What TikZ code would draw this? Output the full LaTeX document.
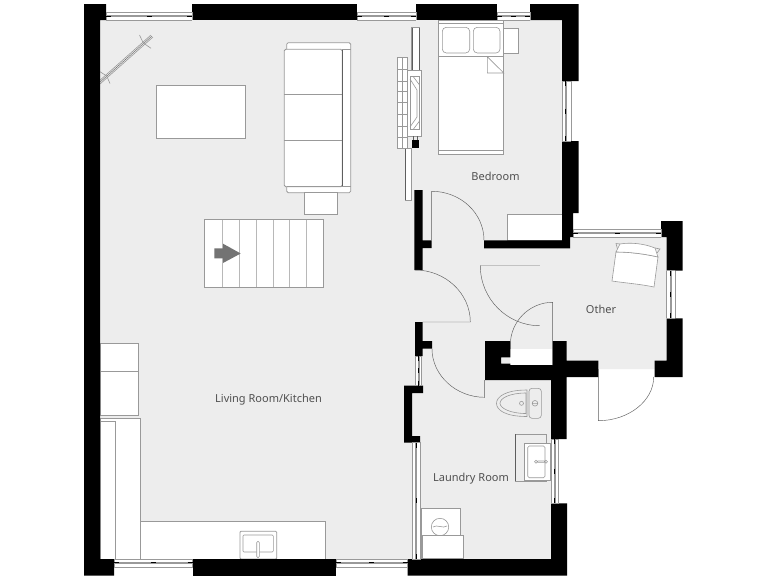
\documentclass[tikz,border=0pt]{standalone}
\usepackage{fontspec}
\setmainfont{Noto Sans}
\definecolor{floorc}{HTML}{EDEDED}
\definecolor{linec}{HTML}{999999}
\definecolor{darkl}{HTML}{5E5E5E}
\definecolor{labelc}{HTML}{505050}
\newcommand{\winh}[4]{% x1,x2,y1,y2
  \fill[white] (#1,#3) rectangle (#2,#4);
  \draw[winl] (#1,#3) -- (#2,#3) (#1,#4) -- (#2,#4) (#1,#3) -- (#1,#4) (#2,#3) -- (#2,#4);
  \draw[winl] (#1,{#3+3.2}) -- (#2,{#3+3.2}) (#1,{#3+4.4}) -- (#2,{#3+4.4});
  \draw[wind] (#1,{#3+3.8}) -- ({#1+5},{#3+3.8}) ({(#1+#2)/2-2.5},{#3+3.8}) -- ({(#1+#2)/2+2.5},{#3+3.8}) ({#2-5},{#3+3.8}) -- (#2,{#3+3.8});}
\newcommand{\winv}[4]{% x1,x2,y1,y2
  \fill[white] (#1,#3) rectangle (#2,#4);
  \draw[winl] (#1,#3) -- (#1,#4) (#2,#3) -- (#2,#4) (#1,#3) -- (#2,#3) (#1,#4) -- (#2,#4);
  \draw[winl] ({#1+3.2},#3) -- ({#1+3.2},#4) ({#1+4.4},#3) -- ({#1+4.4},#4);
  \draw[wind] ({#1+3.8},#3) -- ({#1+3.8},{#3+5}) ({#1+3.8},{(#3+#4)/2-2.5}) -- ({#1+3.8},{(#3+#4)/2+2.5}) ({#1+3.8},{#4-5}) -- ({#1+3.8},#4);}
\tikzset{
  winl/.style={draw=linec,line width=0.6pt},
  wind/.style={draw=black,line width=1pt},
  wall/.style={fill=black,draw=none},
  floorpoly/.style={fill=floorc,draw=none},
  furn/.style={fill=white,draw=linec,line width=0.8pt},
  furnd/.style={fill=white,draw=darkl,line width=0.7pt},
  thin line/.style={draw=linec,line width=0.6pt},
  doorl/.style={draw=darkl,line width=0.45pt},
  roomlabel/.style={text=labelc,font=\fontsize{11}{13}\selectfont,inner sep=0pt,anchor=base},
}
\begin{document}
\begin{tikzpicture}[x=1pt,y=-1pt]
\useasboundingbox (0,0) rectangle (768,576);
\fill[white] (0,0) rectangle (768,576);
% floor
\path[floorpoly] (100,20) -- (562,20) -- (562,237) -- (666.7,237) -- (666.7,369) -- (598.3,369) -- (598.3,365) -- (551,365) -- (551,559) -- (100,559) -- cycle;
% plant / stick
\draw[winl] (98,82) -- (151,35) (100,84) -- (153,37);
\draw[draw=darkl,line width=0.4pt] (99,83) -- (152,36);
\draw[thin line] (139.5,35) -- (143.3,43) -- (151,48.3) (100,71.7) -- (106.7,76) -- (110,83.5);
% table
\draw[furn] (156,85.3) rectangle (245.3,138.3);
% sofa
\draw[furn,rounded corners=1.5pt] (286.7,42.7) rectangle (350.7,192.7);
\draw[furn,rounded corners=1.5pt,fill=white] (284.2,49.3) rectangle (342.3,186.7);
\draw[draw=darkl,line width=0.7pt] (342.3,49.3) -- (342.3,186.7);
\draw[thin line] (284.2,94.3) -- (342.3,94.3) (284.2,140.3) -- (342.3,140.3) (342.3,49.3) -- (350.7,49.3) (286.7,186.7) -- (350.7,186.7);
\draw[furn] (304,192.7) rectangle (337.7,214.7);
% stairs
\draw[furn] (204.3,219.7) rectangle (323.7,287.3);
\draw[draw=linec!70,line width=0.9pt] (222.3,219.7) -- (222.3,287.3) (239.3,219.7) -- (239.3,287.3) (256,219.7) -- (256,287.3) (273,219.7) -- (273,287.3) (289.7,219.7) -- (289.7,287.3) (306.7,219.7) -- (306.7,287.3);
\fill[fill=black!55] (214.3,248.3) -- (223,248.3) -- (223,243.7) -- (240.7,253.5) -- (223,263) -- (223,258.3) -- (214.3,258.3) -- cycle;
% kitchen
\draw[furn] (100,343.3) rectangle (138.3,415);
\draw[thin line] (100,371.3) -- (138.3,371.3);
\draw[furn] (100,418.3) rectangle (140.3,559);
\draw[furn] (100,421) rectangle (115.7,559);
\draw[furn] (140.3,521) rectangle (325.7,559);
\draw[furn,rounded corners=1pt] (240,531.3) rectangle (276.7,559);
\draw[thin line,rounded corners=1pt] (243,535) rectangle (273.3,552);
\draw[thin line,fill=white,rounded corners=1pt] (256.7,541.5) rectangle (259.3,557.5);
% divider / TV unit
\draw[furn,line width=0.5pt] (405.3,148) rectangle (411.7,200);
\draw[draw=darkl,line width=0.7pt] (405.3,148) -- (405.3,200);
\draw[furn,line width=0.5pt] (397.3,57.3) rectangle (407,148.3);
\draw[thin line] (402,57.3) -- (402,148.3) (397.3,69) -- (407,69) (397.3,81) -- (407,81) (397.3,91.7) -- (407,91.7) (397.3,102.7) -- (407,102.7) (397.3,114.3) -- (407,114.3) (397.3,126) -- (407,126) (397.3,137.3) -- (407,137.3);
\draw[furn,line width=0.5pt] (411.7,27.7) rectangle (419.7,70);
\draw[draw=darkl,line width=0.6pt] (412.4,27.7) -- (412.4,70) (418.9,27.7) -- (418.9,70);
\draw[furn,line width=0.5pt] (407,70) rectangle (421.7,136);
\draw[thin line] (410,76.3) rectangle (419.5,129.7);
\draw[thin line] (410,79) -- (417,90) -- (417,117) -- (410,127) (413,76.3) -- (419.5,85) (419.5,121) -- (413,129.7);
\draw[draw=darkl,line width=0.6pt] (413.5,136) -- (413.5,140.3) (417.5,136) -- (417.5,140.3);
\fill[black] (412,140.3) rectangle (419,148);
% bed
\draw[furn] (438.3,20) rectangle (503.7,154);
\draw[thin line] (438.3,23) -- (503.7,23) (438.3,56) -- (503.7,56) (438.3,150) -- (503.7,150);
\draw[thin line,rounded corners=4pt] (442.3,27.3) rectangle (469.7,53);
\draw[thin line,rounded corners=4pt] (473.3,27.3) rectangle (500,53);
\draw[thin line] (487.3,56.7) -- (487.3,73) -- (503.7,73) -- cycle;
\draw[furn,line width=0.6pt] (503.7,28.3) rectangle (518.7,53.3);
% shelf
\draw[furn,line width=0.6pt] (507.7,240) -- (507.7,214.3) -- (562,214.3) -- (562,240) -- cycle;
% other room chair
\draw[thin line,fill=white] (616,252) .. controls (630,252) and (645,254) .. (658,257) -- (654,287) .. controls (640,284) and (625,283) .. (612,281) -- cycle;
\draw[thin line,fill=white] (616,252) -- (620,244) .. controls (632,242) and (645,244) .. (655,248) -- (658,257) .. controls (645,254) and (630,252) .. (616,252) -- cycle;
\draw[thin line] (620,244) -- (616,243.5) -- (617.5,249) (655,248) -- (660,249) -- (657,253);
% toilet
\draw[thin line,fill=floorc,rounded corners=3pt] (529,388.3) rectangle (541.3,418.3);
\draw[thin line] (527,390) .. controls (505,390) and (496.5,397) .. (496.5,403.3) .. controls (496.5,410) and (505,416.5) .. (527,416.5) -- cycle;
\draw[thin line] (526,393) .. controls (510,393) and (500,398) .. (500,403.3) .. controls (500,408) and (510,413.5) .. (526,413.5) -- cycle;
\draw[thin line] (521.5,403.3) circle (2);
\draw[thin line] (535,403.3) circle (2.8) (532.2,403.3) -- (537.8,403.3);
% vanity
\draw[thin line,line width=0.5pt] (515,434) rectangle (546.7,481);
\draw[draw=darkl,line width=0.9pt] (515,434) -- (515,481);
\draw[furn,fill=white] (524.7,443.3) rectangle (550.7,480);
\draw[thin line,rounded corners=1.5pt] (527.7,446) rectangle (545,477.7);
\draw[thin line] (536,461.7) circle (1.5) (546,461.7) circle (1.5) (537.5,461) -- (544.5,461) (537.5,462.4) -- (544.5,462.4);
% washer
\draw[furn,line width=0.6pt] (421,508.3) rectangle (460.7,559);
\draw[thin line,fill=white] (440,527) circle (8.7);
\draw[thin line] (433,527) .. controls (437,524) and (443,529) .. (447,526);
\draw[furn,line width=0.6pt] (422.3,535.7) rectangle (463.7,558.3);
% white closet and notch
\fill[white] (510.3,349) rectangle (552.7,365);
% walls
\path[wall] (84,4) -- (106,4) -- (106,20) -- (100,20) -- (100,559) -- (114,559) -- (114,575.7) -- (84,575.7) -- cycle;
\path[wall] (192,4) rectangle (357,20);
\path[wall] (416.3,4) rectangle (497,20);
\path[wall] (530,4) -- (578.7,4) -- (578.7,81) -- (562,81) -- (562,20) -- (530,20) -- cycle;
\path[wall] (562,141) -- (578.7,141) -- (578.7,213) -- (573,213) -- (573,237) -- (570,237) -- (570,248.3) -- (484,248.3) -- (484,240.4) -- (562,240.4) -- cycle;
\path[wall] (414.3,190) -- (422.6,190) -- (422.6,240.3) -- (431.7,240.3) -- (431.7,248) -- (422.6,248) -- (422.6,270) -- (414.3,270) -- cycle;
\path[wall] (661,221) -- (682.7,221) -- (682.7,270.7) -- (666.7,270.7) -- (666.7,237) -- (661,237) -- cycle;
\path[wall] (666.7,318.3) -- (682.7,318.3) -- (682.7,377) -- (654.7,377) -- (654.7,360.7) -- (666.7,360.7) -- cycle;
\path[wall] (485,341) -- (510.3,341) -- (510.3,357.3) -- (501,357.3) -- (501,363.7) -- (510.3,363.7) -- (510.3,365) -- (552.7,365) -- (552.7,341) -- (566.7,341) -- (566.7,360.7) -- (598.3,360.7) -- (598.3,377) -- (566.7,377) -- (566.7,439) -- (551,439) -- (551,380) -- (485,380) -- cycle;
\path[wall] (415,322) -- (422.7,322) -- (422.7,341) -- (432,341) -- (432,348.7) -- (422.7,348.7) -- (422.7,356) -- (415,356) -- cycle;
\path[wall] (404,385.7) -- (423,385.7) -- (423,393) -- (412,393) -- (412,436) -- (420,436) -- (420,442.7) -- (404,442.7) -- cycle;
\path[wall] (551,503.3) -- (567,503.3) -- (567,575.7) -- (407.7,575.7) -- (407.7,559) -- (551,559) -- cycle;
\path[wall] (192.7,559) rectangle (336,575.7);
% windows
\winh{106}{192}{12.3}{20}
\winh{357}{416.3}{12.3}{20}
\winh{497}{530}{12.3}{20}
\winh{114}{192.7}{559}{567}
\winh{336}{407.7}{559}{567}
\winh{573}{661}{229.3}{237.3}
\winv{562}{571}{81}{141}
\winv{666.7}{675}{270.7}{318.3}
\winv{551}{558.7}{439}{503.3}
\winv{412.3}{420.7}{442.7}{559}
\winv{415}{421.5}{356}{385.7}
% doors
\draw[doorl] (431.7,240.3) -- (431.7,191.3) .. controls (460.5,191.3) and (484,213) .. (484,240.4);
\draw[doorl] (415,270) .. controls (445.4,270) and (470.3,293.4) .. (470.3,322) -- (422.7,322);
\draw[draw=linec!60,line width=0.7pt] (480.3,265.7) -- (539.7,265.7);
\draw[doorl] (480.3,265.7) .. controls (480.3,298.7) and (507,325.7) .. (539.7,325.7);
\draw[doorl] (510.3,349) -- (510.3,345) .. controls (510.3,321.5) and (529.4,302.3) .. (552.7,302.3) -- (552.7,365);
\draw[doorl] (432,348.7) .. controls (432,375.4) and (456,397.3) .. (484.7,397.3) -- (484.7,380);
\draw[doorl] (598.3,369) -- (598.3,420.7) .. controls (628.8,420.7) and (653.7,400.7) .. (653.7,377);
% labels
\node[roomlabel] (bedroom) at (495.5,180) {Bedroom};
\node[roomlabel] (other) at (601,313.5) {Other};
\node[roomlabel] (laundry) at (471,481.7) {Laundry Room};
\node[roomlabel] (living) at (268.5,402.7) {Living Room/Kitchen};
\end{tikzpicture}
\end{document}
